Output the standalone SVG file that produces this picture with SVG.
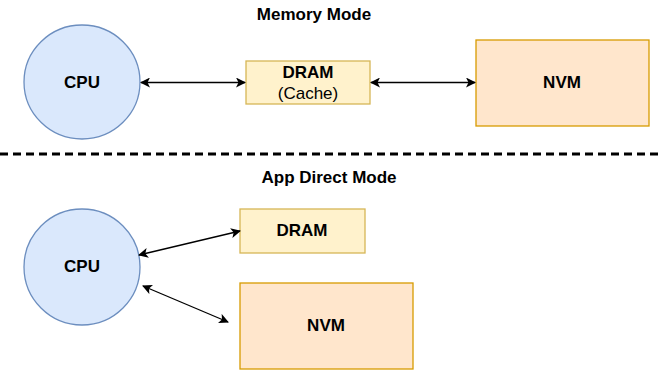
<svg xmlns="http://www.w3.org/2000/svg" width="661" height="371" viewBox="0 0 661 371">
<style>
.cpu{fill:#dae8fc;stroke:#6c8ebf;stroke-width:1.3}
.dram{fill:#fff2cc;stroke:#d6b656;stroke-width:1.3}
.nvm{fill:#ffe6cc;stroke:#d79b00;stroke-width:1.3}
text{font-family:"Liberation Sans",Arial,sans-serif;font-size:17px;fill:#000;text-anchor:middle;dominant-baseline:central}
.b{font-weight:bold}
.edge{stroke:#000;stroke-width:1.3;fill:none;marker-start:url(#ah);marker-end:url(#ah)}
</style>
<defs>
<marker id="ah" viewBox="0 0 10 10" refX="9" refY="5" markerWidth="10" markerHeight="10" markerUnits="userSpaceOnUse" orient="auto-start-reverse">
<path d="M0,0 L10,5 L0,10 L2.5,5 Z" fill="#000"/>
</marker>
</defs>
<text class="b" x="314" y="14">Memory Mode</text>
<text class="b" x="329" y="177">App Direct Mode</text>
<line x1="0" y1="154" x2="661" y2="154" stroke="#000" stroke-width="3" stroke-dasharray="8 5"/>
<g id="cpu1"><ellipse class="cpu" cx="82" cy="82" rx="58" ry="57"/><text class="b" x="82" y="82">CPU</text></g>
<g id="dram1"><rect class="dram" x="246" y="61" width="124" height="43"/><text class="b" x="308" y="72">DRAM</text><text x="308" y="93">(Cache)</text></g>
<g id="nvm1"><rect class="nvm" x="476" y="40" width="173" height="86"/><text class="b" x="562" y="82">NVM</text></g>
<g id="cpu2"><ellipse class="cpu" cx="82" cy="267" rx="58" ry="58"/><text class="b" x="82" y="266">CPU</text></g>
<g id="dram2"><rect class="dram" x="240" y="209" width="125" height="44"/><text class="b" x="302" y="230">DRAM</text></g>
<g id="nvm2"><rect class="nvm" x="240" y="283" width="173" height="86"/><text class="b" x="326" y="325">NVM</text></g>
<g id="connectors">
<line class="edge" x1="141" y1="82.5" x2="245" y2="82.5"/>
<line class="edge" x1="371" y1="82.5" x2="475" y2="82.5"/>
<line class="edge" x1="139" y1="255" x2="240" y2="231"/>
<line class="edge" x1="143" y1="286" x2="228" y2="322"/>
</g>
</svg>
